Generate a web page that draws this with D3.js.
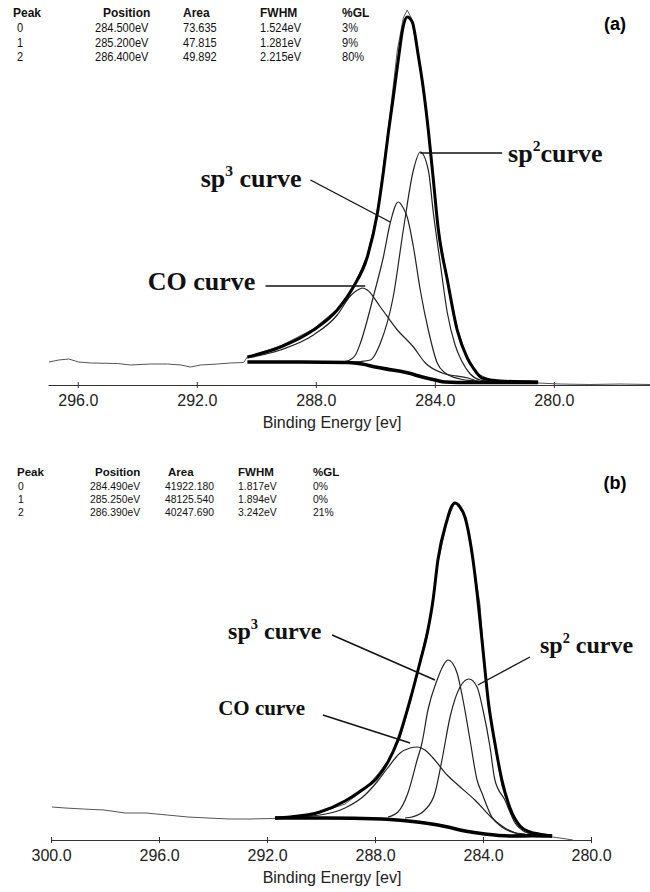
<!DOCTYPE html>
<html>
<head>
<meta charset="utf-8">
<script src="https://cdn.jsdelivr.net/npm/d3@7"></script>
<style>
  body { margin: 0; background: #fff; }
  svg { display: block; }
  .tick text { font-family: Arial, "Liberation Sans", sans-serif; font-size: 16px; fill: #222; }
</style>
</head>
<body>
<svg id="chart" width="650" height="892"></svg>
<script>
// fit tables
let tableHeader = ["Peak", "Position", "Area", "FWHM", "%GL"];
let peakIds = ["0", "1", "2"];
let aPosition = ["284.500eV", "285.200eV", "286.400eV"];
let aArea = ["73.635", "47.815", "49.892"];
let aFwhm = ["1.524eV", "1.281eV", "2.215eV"];
let aGL = ["3%", "9%", "80%"];
let bPosition = ["284.490eV", "285.250eV", "286.390eV"];
let bArea = ["41922.180", "48125.540", "40247.690"];
let bFwhm = ["1.817eV", "1.894eV", "3.242eV"];
let bGL = ["0%", "0%", "21%"];

let aTicks = [296, 292, 288, 284, 280];
let bTicks = [300, 296, 292, 288, 284, 280];

// panel (a) : [binding energy eV, counts]
let aRaw = [[296.97, 920], [296.64, 1000], [296.30, 1040], [295.97, 920], [295.56, 880], [294.66, 860],
    [294.22, 800], [293.55, 840], [292.98, 840], [292.54, 800], [292.21, 720], [291.87, 800], [291.30, 840],
    [290.87, 880], [290.43, 900], [290.30, 1120], [289.19, 1560], [288.08, 2240], [287.28, 3040],
    [286.74, 3920], [286.27, 5160], [285.93, 6920], [285.56, 10280], [285.26, 13400], [285.06, 14680],
    [284.93, 15000], [284.79, 14680], [284.56, 13200], [284.22, 10280], [283.89, 6280], [283.58, 4280],
    [283.25, 2280], [282.91, 1080], [282.54, 440], [282.14, 200], [281.47, 120], [280.53, 80],
    [279.79, 40], [278.79, 20], [277.78, 40], [276.77, 20]];
let aEnvelope = [[290.30, 1120], [289.19, 1520], [288.08, 2200], [287.28, 3000], [286.74, 3920],
    [286.27, 5120], [285.93, 6880], [285.73, 8520], [285.56, 10120], [285.40, 11480], [285.23, 13000],
    [285.06, 14360], [284.93, 14720], [284.76, 14520], [284.56, 13200], [284.39, 11880], [284.22, 10200],
    [284.05, 8200], [283.89, 6280], [283.58, 4200], [283.25, 2200], [282.91, 1080], [282.71, 680],
    [282.41, 280], [281.81, 160], [280.53, 120]];
let aBackground = [[290.30, 920], [288.52, 920], [286.91, 900], [286.44, 840], [286.00, 720],
    [285.43, 600], [284.89, 480], [284.42, 320], [283.99, 200], [283.65, 120], [282.81, 100], [280.53, 100]];
let aSp2 = [[286.84, 920], [286.50, 940], [286.17, 1000], [285.83, 1680], [285.40, 3520], [285.06, 6200],
    [284.72, 8600], [284.49, 9320], [284.22, 8600], [284.05, 6880], [283.82, 4880], [283.58, 2880],
    [283.32, 1600], [283.08, 920], [282.81, 440], [282.48, 200], [281.97, 120]];
let aSp3 = [[287.17, 920], [286.94, 960], [286.67, 1200], [286.50, 1680], [286.27, 2600], [286.07, 3520],
    [285.73, 5120], [285.50, 6480], [285.23, 7320], [285.06, 7080], [284.93, 6720], [284.72, 5520],
    [284.49, 3800], [284.22, 2200], [283.92, 880], [283.65, 480], [283.15, 240], [282.64, 160], [281.97, 120]];
let aCO = [[290.30, 1080], [289.19, 1400], [288.08, 2000], [287.28, 2800], [286.84, 3560], [286.60, 3800],
    [286.44, 3880], [286.27, 3800], [285.83, 3120], [285.26, 2200], [284.72, 1520], [284.32, 880],
    [283.75, 480], [282.88, 280], [282.41, 120], [281.81, 100]];

// panel (b)
let bRaw = [[299.96, 1320], [299.48, 1280], [298.81, 1240], [298.04, 1200], [297.26, 1080], [296.48, 1080],
    [295.70, 1000], [294.93, 920], [294.19, 880], [293.41, 840], [292.63, 840], [291.78, 860],
    [290.41, 960], [289.11, 1440], [288.37, 2040], [287.89, 2640], [287.44, 3280], [287.07, 4080],
    [286.70, 5480], [286.33, 7200], [285.96, 8880], [285.67, 11080], [285.33, 12760], [285.04, 13520],
    [284.67, 12960], [284.37, 11200], [284.11, 9400], [283.96, 7200], [283.81, 5400], [283.56, 3760],
    [283.30, 2160], [283.00, 1160], [282.63, 520], [282.26, 280], [281.70, 160], [281.15, 80], [280.67, 0]];
let bEnvelope = [[291.70, 880], [291.15, 920], [290.04, 1120], [289.11, 1560], [288.48, 2000],
    [287.93, 2480], [287.52, 3120], [287.15, 4000], [286.70, 5600], [286.33, 7120], [286.04, 8400],
    [285.85, 9600], [285.67, 11200], [285.33, 12800], [285.19, 13280], [285.04, 13480], [284.85, 13320],
    [284.67, 12920], [284.37, 11200], [284.19, 9600], [284.00, 7600], [283.81, 5600], [283.56, 3880],
    [283.30, 2400], [283.00, 1280], [282.63, 560], [282.26, 320], [281.70, 200], [281.44, 160]];
let bBackground = [[291.70, 880], [289.85, 880], [287.74, 840], [286.78, 760], [286.15, 680],
    [285.30, 520], [284.67, 360], [283.93, 240], [282.93, 160], [282.19, 170], [281.44, 160]];
let bSp3 = [[287.52, 920], [287.15, 1120], [286.78, 1880], [286.44, 3200], [286.26, 3880], [286.04, 5200],
    [285.70, 6400], [285.48, 6960], [285.30, 7200], [285.11, 7040], [284.96, 6680], [284.74, 5600],
    [284.48, 4000], [284.22, 2400], [284.04, 1880], [283.67, 920], [283.30, 520], [282.93, 320], [282.44, 240]];
let bSp2 = [[286.89, 880], [286.63, 920], [286.15, 1200], [285.78, 1880], [285.52, 3200], [285.22, 4920],
    [284.85, 6120], [284.52, 6440], [284.22, 6120], [284.00, 5200], [283.74, 3720], [283.56, 2400],
    [283.19, 1600], [282.81, 680], [282.44, 320], [282.19, 240]];
let bCO = [[291.70, 880], [290.04, 1000], [289.11, 1280], [288.37, 1800], [287.93, 2320], [287.56, 2840],
    [287.07, 3480], [286.70, 3680], [286.44, 3720], [286.15, 3600], [285.85, 3280], [285.33, 2600],
    [284.93, 2200], [284.30, 1600], [283.67, 880], [283.19, 480], [282.70, 240]];

// curve labels: leader line ends and text anchor, in [eV, counts]
let aLabels = [
    {parts: ["sp", "2", "curve"], at: [281.54, 8920], anchor: "start", size: 26, line: [[284.49, 9280], [281.74, 9280]]},
    {parts: ["sp", "3", " curve"], at: [291.87, 7920], anchor: "start", size: 26, line: [[288.18, 8200], [285.50, 6520]]},
    {parts: ["CO curve"], at: [290.03, 3800], anchor: "end", size: 26, line: [[289.69, 3960], [286.34, 3960]]}
];
let bLabels = [
    {parts: ["sp", "3", " curve"], at: [293.44, 8040], anchor: "start", size: 24, line: [[289.59, 8200], [285.78, 6400]]},
    {parts: ["sp", "2", " curve"], at: [281.89, 7480], anchor: "start", size: 24, line: [[282.26, 7320], [284.19, 6200]]},
    {parts: ["CO curve"], at: [293.81, 5000], anchor: "start", size: 21, line: [[289.93, 5000], [286.70, 3880]]}
];

let svg = d3.select("#chart");

const drawPanel = (p) => {
    let g = svg.append("g");

    let x = d3.scaleLinear().domain(p.xDomain).range(p.xRange);
    let y = d3.scaleLinear().domain([0, 15000]).range(p.yRange);

    let line = d3.line().x(d => x(d[0])).y(d => y(d[1]));
    let smooth = d3.line().x(d => x(d[0])).y(d => y(d[1])).curve(d3.curveMonotoneX);

    // axis
    let axis = g.append("g")
        .attr("transform", "translate(0," + y(0) + ")")
        .call(d3.axisBottom(x).tickValues(p.ticks).tickFormat(d3.format(".1f"))
            .tickSizeInner(3).tickSizeOuter(0).tickPadding(7));
    axis.select(".domain").attr("stroke", "#333").attr("stroke-width", 1.1);
    axis.selectAll(".tick line").attr("y1", -3).attr("y2", 3).attr("stroke", "#333");

    g.append("text")
        .attr("x", 332)
        .attr("y", y(0) + 43)
        .attr("text-anchor", "middle")
        .style("font-family", "Arial, 'Liberation Sans', sans-serif")
        .style("font-size", "16px")
        .attr("fill", "#222")
        .text("Binding Energy [ev]");

    // raw spectrum
    g.append("path").datum(p.raw)
        .attr("d", line).attr("fill", "none")
        .attr("stroke", "#555").attr("stroke-width", 1);

    // components
    [p.co, p.sp3, p.sp2].forEach(s => {
        g.append("path").datum(s)
            .attr("d", smooth).attr("fill", "none")
            .attr("stroke", "#222").attr("stroke-width", 1.2);
    });

    g.append("path").datum(p.background)
        .attr("d", smooth).attr("fill", "none")
        .attr("stroke", "#000").attr("stroke-width", 3.6);
    g.append("path").datum(p.envelope)
        .attr("d", smooth).attr("fill", "none")
        .attr("stroke", "#000").attr("stroke-width", 3);

    // curve labels
    p.labels.forEach(l => {
        g.append("line")
            .attr("x1", x(l.line[0][0])).attr("y1", y(l.line[0][1]))
            .attr("x2", x(l.line[1][0])).attr("y2", y(l.line[1][1]))
            .attr("stroke", "#111").attr("stroke-width", 1.4);
        let t = g.append("text")
            .attr("x", x(l.at[0])).attr("y", y(l.at[1]))
            .attr("text-anchor", l.anchor)
            .style("font-family", "'Liberation Serif', 'Times New Roman', serif")
            .style("font-weight", "bold")
            .style("font-size", l.size + "px")
            .attr("fill", "#111");
        l.parts.forEach((s, i) => {
            let ts = t.append("tspan").text(s);
            if (i === 1) ts.attr("dy", -l.size * 0.42).style("font-size", (l.size * 0.6) + "px");
            if (i === 2) ts.attr("dy", l.size * 0.42);
        });
    });

    // fit table
    let tbl = g.append("g")
        .style("font-family", "Arial, 'Liberation Sans', sans-serif")
        .attr("fill", "#111");
    let cols = [peakIds, p.position, p.area, p.fwhm, p.gl];
    tableHeader.forEach((h, c) => {
        tbl.append("text")
            .attr("x", p.headX[c]).attr("y", p.headY)
            .style("font-size", p.headSize + "px").style("font-weight", "bold")
            .text(h);
        cols[c].forEach((v, r) => {
            tbl.append("text")
                .attr("transform", "translate(" + p.colX[c] + "," + (p.rowY + r * p.rowStep) + ") scale(" + p.squeeze + ",1)")
                .style("font-size", p.cellSize + "px")
                .text(v);
        });
    });

    g.append("text")
        .attr("x", 615).attr("y", p.tagY)
        .attr("text-anchor", "middle")
        .style("font-family", "Arial, 'Liberation Sans', sans-serif")
        .style("font-weight", "bold")
        .style("font-size", "18px")
        .text(p.tag);
};

drawPanel({
    xDomain: [297, 276.77], xRange: [48, 650], yRange: [385, 10], ticks: aTicks,
    raw: aRaw, envelope: aEnvelope, background: aBackground, sp2: aSp2, sp3: aSp3, co: aCO,
    labels: aLabels,
    position: aPosition, area: aArea, fwhm: aFwhm, gl: aGL,
    headX: [13, 103, 183, 260, 342], colX: [17, 95, 183, 260, 342],
    headY: 17, rowY: 32, rowStep: 14.5, headSize: 12, cellSize: 13, squeeze: 0.85,
    tag: "(a)", tagY: 30
});

drawPanel({
    xDomain: [300, 280], xRange: [51, 591], yRange: [840, 465], ticks: bTicks,
    raw: bRaw, envelope: bEnvelope, background: bBackground, sp2: bSp2, sp3: bSp3, co: bCO,
    labels: bLabels,
    position: bPosition, area: bArea, fwhm: bFwhm, gl: bGL,
    headX: [17, 95, 168, 238, 313], colX: [18, 90, 165, 238, 313],
    headY: 475.5, rowY: 489.5, rowStep: 13, headSize: 11.5, cellSize: 11.5, squeeze: 0.9,
    tag: "(b)", tagY: 489
});
</script>
</body>
</html>
